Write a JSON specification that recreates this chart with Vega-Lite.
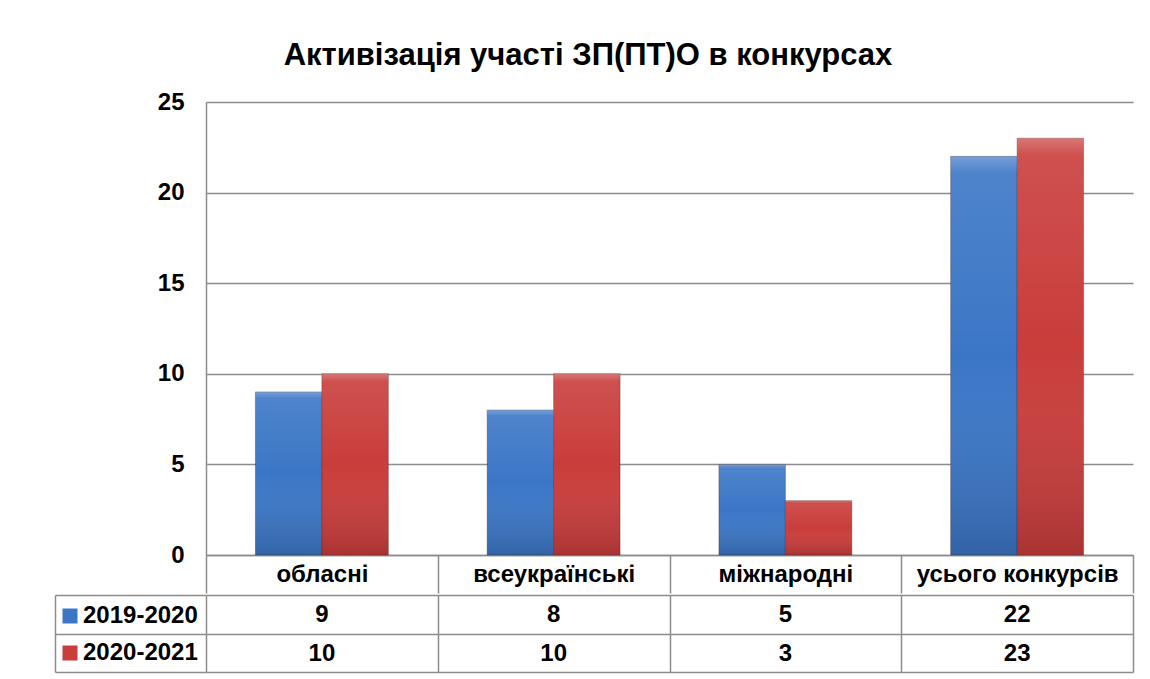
{
  "$schema": "https://vega.github.io/schema/vega-lite/v6.json",
  "background": "white",
  "padding": {"left": 54, "top": 40, "right": 10, "bottom": 5},
  "title": {"text": "Активізація участі ЗП(ПТ)О в конкурсах", "font": "Liberation Sans", "fontSize": 31, "fontWeight": "bold", "color": "black", "anchor": "middle", "offset": 18, "dx": -6},
  "data": {"values": [
    {"category": "обласні", "series": "2019-2020", "value": 9},
    {"category": "обласні", "series": "2020-2021", "value": 10},
    {"category": "всеукраїнські", "series": "2019-2020", "value": 8},
    {"category": "всеукраїнські", "series": "2020-2021", "value": 10},
    {"category": "міжнародні", "series": "2019-2020", "value": 5},
    {"category": "міжнародні", "series": "2020-2021", "value": 3},
    {"category": "усього конкурсів", "series": "2019-2020", "value": 22},
    {"category": "усього конкурсів", "series": "2020-2021", "value": 23}
  ]},
  "spacing": 0,
  "vconcat": [
    {
      "width": 927,
      "height": 453,
      "layer": [
        {
          "mark": {"type": "bar", "stroke": "#3a2020", "strokeOpacity": 0.35, "strokeWidth": 1},
          "encoding": {
            "x": {"field": "category", "type": "nominal", "sort": null, "scale": {"paddingInner": 0, "paddingOuter": 0},
              "axis": {"title": null, "orient": "bottom", "domain": true, "domainColor": "#8c8c8c", "domainWidth": 1.5, "ticks": true, "tickBand": "extent", "tickSize": 38, "tickColor": "#8c8c8c", "tickWidth": 1.5, "labelAngle": 0, "labelLimit": 0, "labelFont": "Liberation Sans", "labelFontSize": 24, "labelFontWeight": "bold", "labelColor": "black", "labelBaseline": "middle", "labelPadding": -19, "grid": false}},
            "xOffset": {"field": "series", "type": "nominal", "scale": {"paddingInner": 0, "paddingOuter": 0.744}},
            "y": {"field": "value", "type": "quantitative", "scale": {"domain": [0, 25], "nice": false},
              "axis": {"title": null, "values": [0, 5, 10, 15, 20, 25], "domain": true, "domainColor": "#8c8c8c", "domainWidth": 1.5, "ticks": false, "labelPadding": 22, "labelFont": "Liberation Sans", "labelFontSize": 24, "labelFontWeight": "bold", "labelColor": "black", "grid": true, "gridColor": "#8c8c8c", "gridWidth": 1.5}},
            "color": {"field": "series", "type": "nominal", "scale": {"domain": ["2019-2020", "2020-2021"], "range": ["#3b76c6", "#c93d3b"]},
              "legend": {"orient": "none", "legendX": -148, "legendY": 502, "title": null, "symbolType": "square", "symbolSize": 225, "symbolStrokeWidth": 0, "labelFont": "Liberation Sans", "labelFontSize": 24, "labelFontWeight": "bold", "labelColor": "black", "labelOffset": 1, "labelLimit": 0, "rowPadding": 13, "padding": 0}}
          }
        },
        {
          "mark": {"type": "bar", "fill": {"gradient": "linear", "x1": 0, "y1": 0, "x2": 0, "y2": 1, "stops": [{"offset": 0, "color": "rgba(255,255,255,0.30)"}, {"offset": 0.04, "color": "rgba(255,255,255,0.10)"}, {"offset": 0.5, "color": "rgba(255,255,255,0.0)"}, {"offset": 1, "color": "rgba(0,0,0,0.16)"}]}},
          "encoding": {
            "x": {"field": "category", "type": "nominal", "sort": null},
            "xOffset": {"field": "series", "type": "nominal"},
            "y": {"field": "value", "type": "quantitative"}
          }
        }
      ]
    },
    {
      "width": 927,
      "height": 77,
      "mark": {"type": "text", "font": "Liberation Sans", "fontSize": 24, "fontWeight": "bold", "color": "black", "align": "center", "baseline": "middle", "dy": 1},
      "encoding": {
        "x": {"field": "category", "type": "nominal", "sort": null, "scale": {"paddingInner": 0, "paddingOuter": 0},
          "axis": {"title": null, "labels": false, "ticks": false, "domain": false, "grid": true, "tickBand": "extent", "gridColor": "#8c8c8c", "gridWidth": 1.5}},
        "y": {"field": "series", "type": "nominal", "scale": {"paddingInner": 0, "paddingOuter": 0},
          "axis": {"title": null, "labels": false, "offset": 151, "domain": true, "domainColor": "#8c8c8c", "domainWidth": 1.5, "ticks": true, "tickSize": -151, "tickBand": "extent", "tickColor": "#8c8c8c", "tickWidth": 1.5, "grid": true, "gridColor": "#8c8c8c", "gridWidth": 1.5}},
        "text": {"field": "value", "type": "quantitative"}
      }
    }
  ],
  "config": {"view": {"stroke": null}}
}
